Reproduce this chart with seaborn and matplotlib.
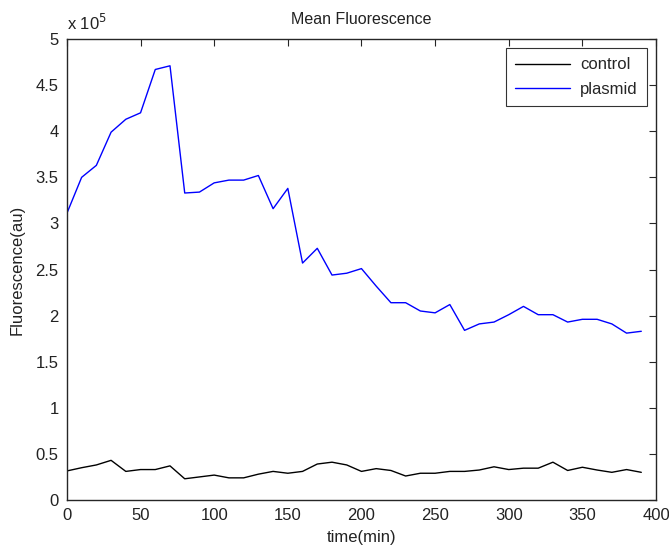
import numpy as np
import pandas as pd
import matplotlib
matplotlib.use("Agg")
import matplotlib.pyplot as plt
from matplotlib.ticker import FuncFormatter, MultipleLocator
import seaborn as sns

# Sampling times (minutes)
time_min = list(range(0, 400, 10))

# Mean fluorescence, arbitrary units
control = [31500, 35000, 38000, 43000, 31000, 33000, 33000, 37000, 23000, 25000,
           27000, 24000, 24000, 28000, 31000, 29000, 31000, 39000, 41000, 38000,
           31000, 34000, 32000, 26000, 29000, 29000, 31000, 31000, 32500, 36000,
           33000, 34500, 34500, 41000, 32000, 35500, 32500, 30000, 33000, 30000]
plasmid = [311000, 350000, 363000, 399000, 413000, 420000, 467000, 471000, 333000, 334000,
           344000, 347000, 347000, 352000, 316000, 338000, 257000, 273000, 244000, 246000,
           251000, 232000, 214000, 214000, 205000, 203000, 212000, 184000, 191000, 193000,
           201000, 210000, 201000, 201000, 193000, 196000, 196000, 191000, 181000, 183000]

series_names = ["control", "plasmid"]
series_colors = ["#000000", "#0000ff"]

df = pd.DataFrame({
    "time": time_min * 2,
    "value": control + plasmid,
    "series": [series_names[0]] * len(control) + [series_names[1]] * len(plasmid),
})

sns.set_style("white")
plt.rcParams["font.family"] = ["Liberation Sans", "DejaVu Sans"]
plt.rcParams["font.size"] = 12

fig = plt.figure(figsize=(6.69, 5.51), dpi=100)
ax = fig.add_axes([0.100, 0.0926, 0.8806, 0.8365])

sns.lineplot(data=df, x="time", y="value", hue="series",
             palette=dict(zip(series_names, series_colors)),
             linewidth=1.0, ax=ax, legend=True)

ax.set_xlim(0, 400)
ax.set_ylim(0, 500000)
ax.xaxis.set_major_locator(MultipleLocator(50))
ax.yaxis.set_major_locator(MultipleLocator(50000))
ax.yaxis.set_major_formatter(FuncFormatter(lambda v, p: f"{v / 1e5:g}"))

for side in ["top", "right", "bottom", "left"]:
    ax.spines[side].set_visible(True)
    ax.spines[side].set_color("#262626")
    ax.spines[side].set_linewidth(1.0)
ax.tick_params(direction="in", length=5, width=0.8, top=True, right=True,
               colors="#262626", labelsize=12, labelcolor="#222222", pad=6)

ax.set_title("Mean Fluorescence", fontsize=11.5, color="#222222", pad=11)
ax.set_xlabel("time(min)", fontsize=12, color="#222222", labelpad=5)
ax.set_ylabel("Fluorescence(au)", fontsize=12, color="#222222", labelpad=8)
ax.text(0.0, 1.014, r"x 10$^5$", transform=ax.transAxes, fontsize=12,
        color="#222222", ha="left", va="bottom")

leg = ax.legend(loc="upper right", frameon=True, fancybox=False,
                edgecolor="#000000", fontsize=12, handlelength=3.3,
                borderaxespad=0.55, borderpad=0.55, labelspacing=0.55,
                handletextpad=0.6)
leg.get_frame().set_linewidth(0.8)
for line in leg.get_lines():
    line.set_linewidth(1.0)

fig.savefig("out.png", dpi=100, facecolor="white")
